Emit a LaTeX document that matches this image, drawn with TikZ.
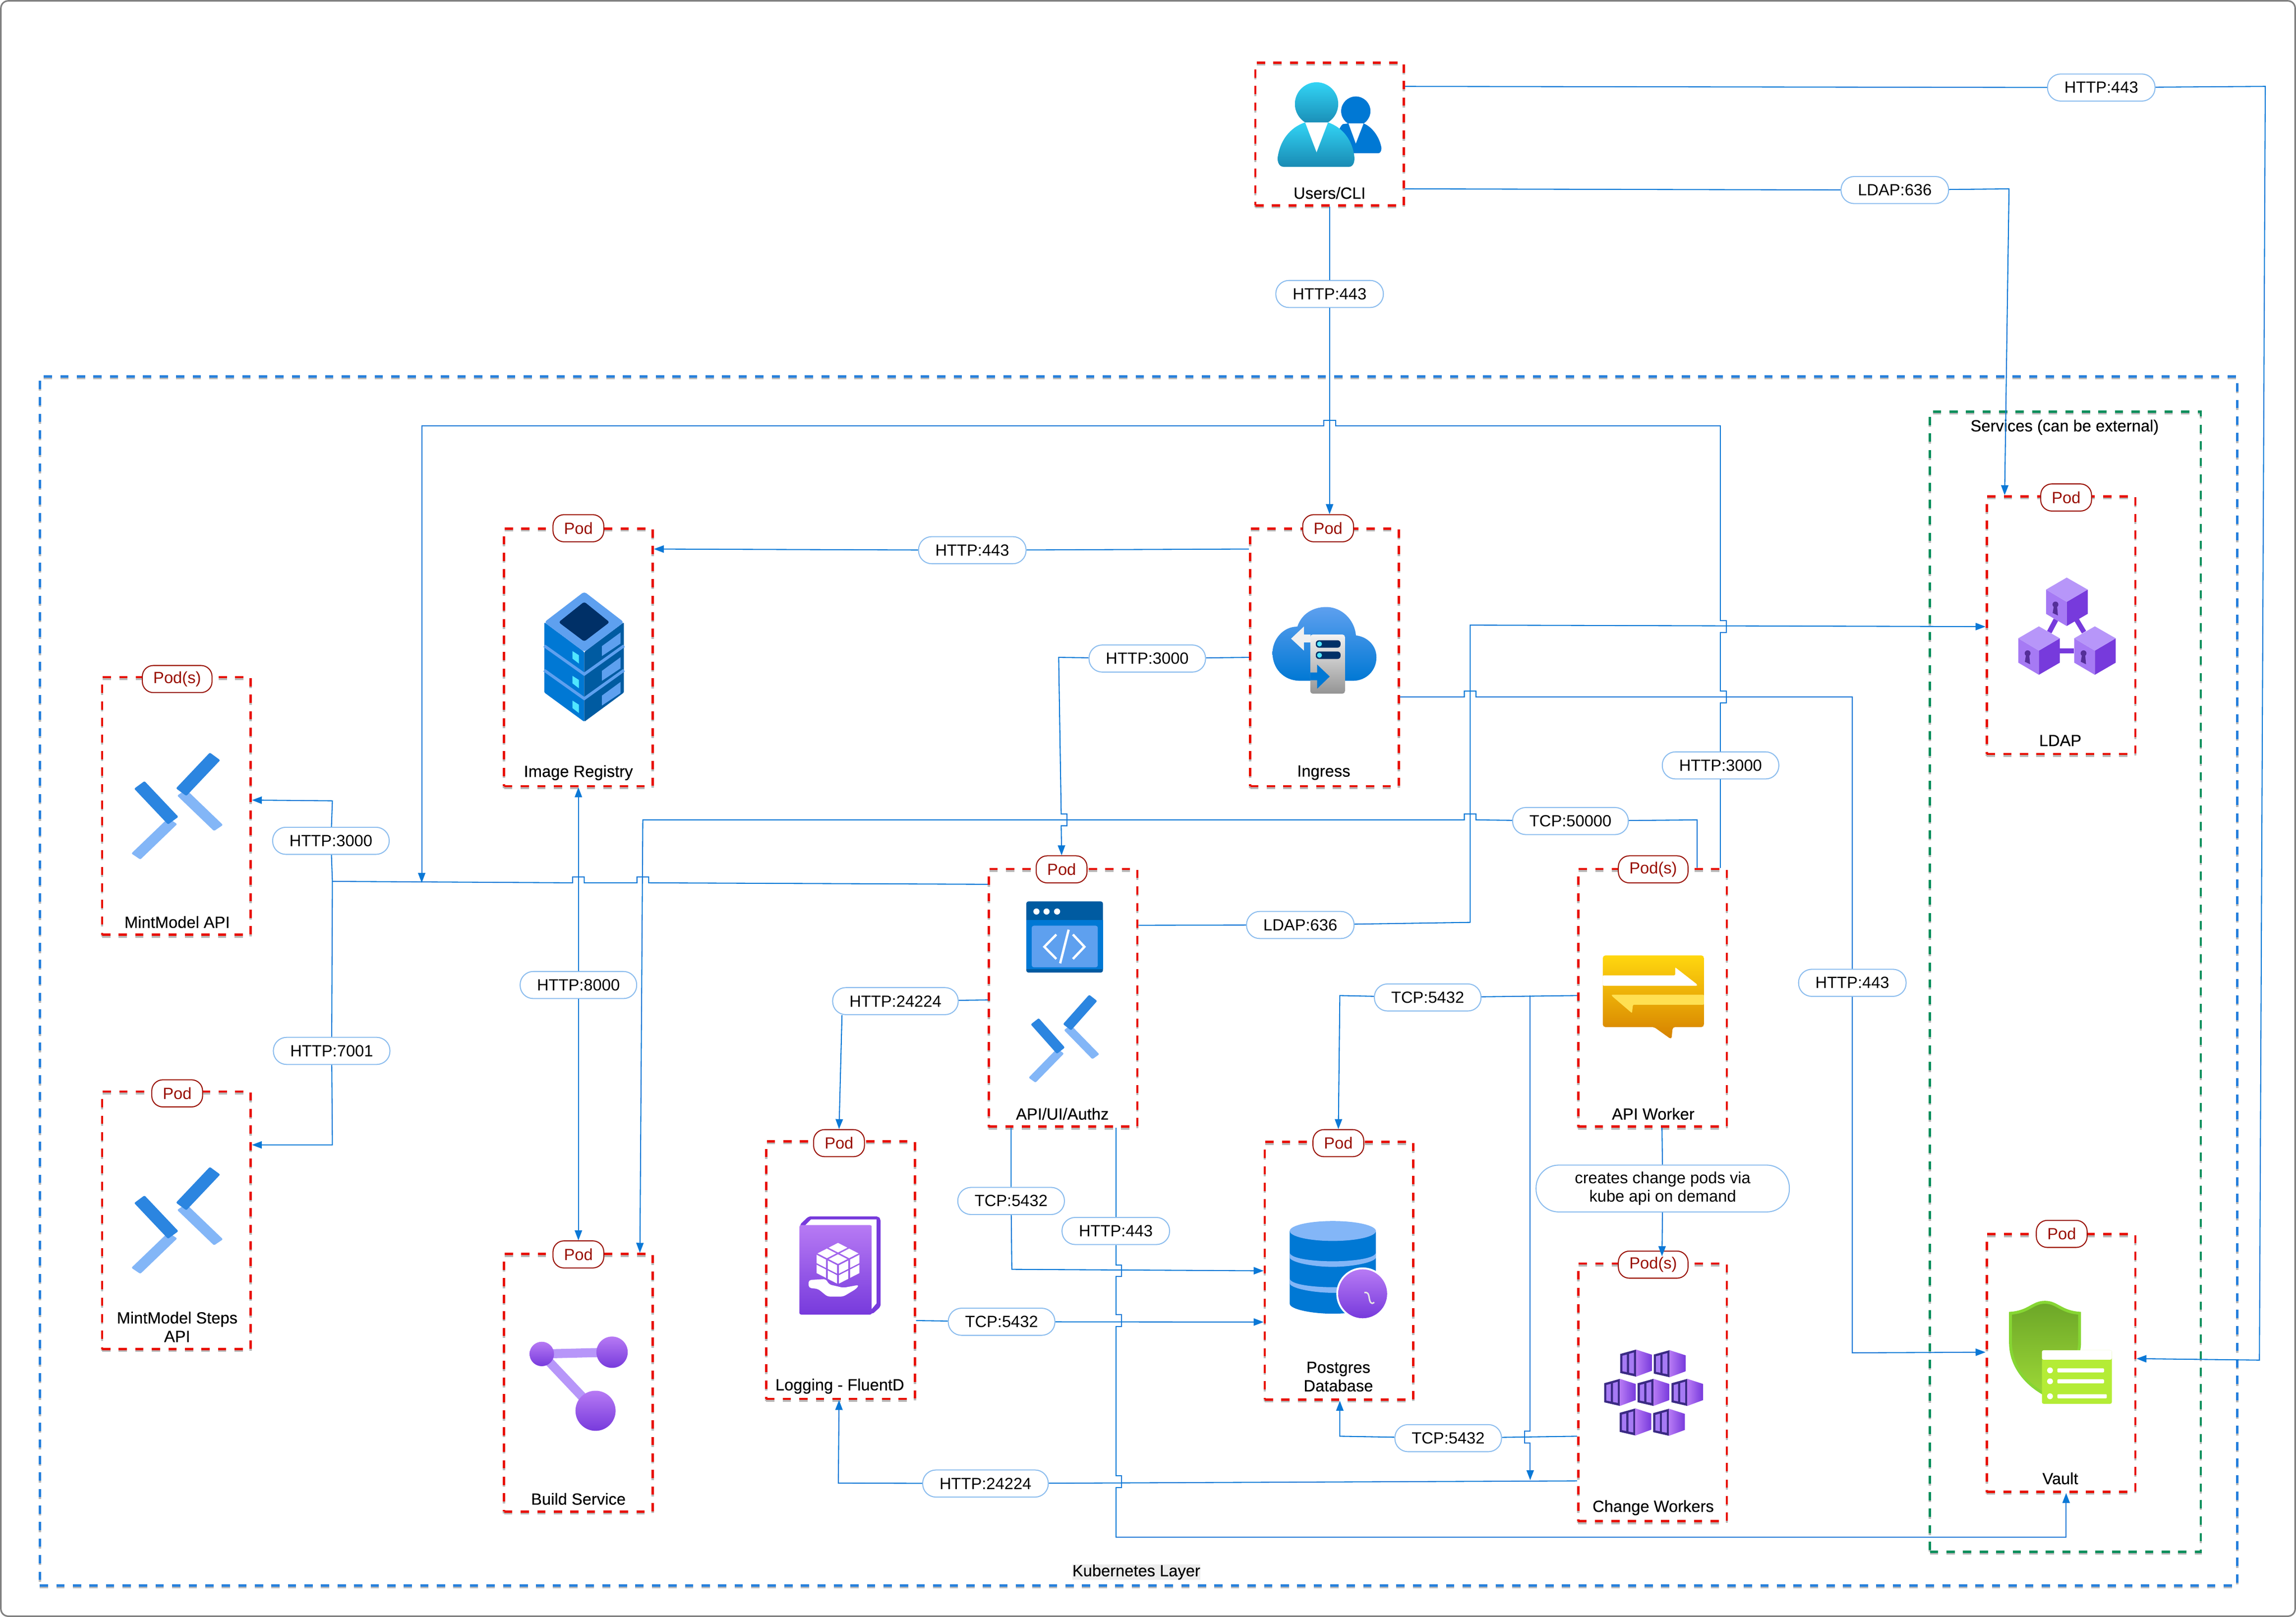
\documentclass[tikz,border=0pt]{standalone}
\usepackage{fontspec}
\setmainfont{Liberation Sans}
\newfontfamily\capfont[FakeBold=0.15]{Liberation Sans}
\usetikzlibrary{arrows.meta}
\definecolor{podred}{HTML}{E81000}
\definecolor{tagred}{HTML}{990F02}
\definecolor{zoneblue}{HTML}{2680DC}
\definecolor{zonegreen}{HTML}{0A8F5C}
\definecolor{linkblue}{HTML}{0A78D6}
\definecolor{pillblue}{HTML}{8CBDEE}
\definecolor{azure}{HTML}{0078D4}
\definecolor{azuredark}{HTML}{005BA1}
\definecolor{azurelight}{HTML}{5EA0EF}
\definecolor{azurenavy}{HTML}{003067}
\definecolor{azurearm}{HTML}{2B85E0}
\definecolor{skyblue}{HTML}{83B6F7}
\definecolor{cyanled}{HTML}{50E6FF}
\definecolor{userstop}{HTML}{32D4F5}
\definecolor{usersbot}{HTML}{198AB3}
\definecolor{violet}{HTML}{773ADC}
\definecolor{violetlight}{HTML}{B77AF4}
\definecolor{violetpale}{HTML}{B796F9}
\definecolor{violetmid}{HTML}{A67AF4}
\definecolor{violetdeep}{HTML}{552F99}
\definecolor{crate}{HTML}{3B2A84}
\definecolor{msgtop}{HTML}{FFD70F}
\definecolor{msgbot}{HTML}{D68100}
\definecolor{msgarrow}{HTML}{FFE052}
\definecolor{shieldrim}{HTML}{86D633}
\definecolor{shieldtop}{HTML}{6CA628}
\definecolor{shieldbot}{HTML}{9CD836}
\definecolor{panelgreen}{HTML}{B4EC36}
\tikzset{
    podbox/.style={draw=podred, line width=0.032cm, dash pattern=on 0.113cm off 0.113cm,
        preaction={draw=black!28, transform canvas={yshift=-0.024cm}},
        minimum width=2.03cm, minimum height=3.52cm, inner sep=0pt},
    zonebox/.style={draw=#1, line width=0.032cm, dash pattern=on 0.113cm off 0.113cm,
        preaction={draw=black!28, transform canvas={yshift=-0.024cm}}, inner sep=0pt},
    podtag/.style={draw=tagred, text=tagred, fill=white, line width=0.4pt, rounded corners=0.15cm,
        minimum height=0.37cm, inner xsep=0.15cm, inner ysep=0pt, yshift=-0.016cm},
    linktag/.style={draw=pillblue, fill=white, line width=0.4pt, rounded corners=0.18cm,
        minimum height=0.37cm, inner xsep=0.23cm, inner ysep=0pt, yshift=-0.016cm},
    caption/.style={inner sep=0pt, align=center, yshift=-0.016cm, font=\capfont\fontsize{6.3}{7.2}\selectfont},
    link/.style={draw=linkblue, line width=0.4pt},
    chevrons/.pic={
        \foreach \sy/\sx in {0/1,16.5/-1}{
            \begin{scope}[shift={(0,\sy)},xscale=\sx]
                \fill[skyblue, rounded corners=0.5pt] (0,-6) -- (4.5,-9.5) -- (23,11) -- (18.5,14.5) -- cycle;
                \fill[azurearm, rounded corners=0.5pt] (21.6,-26.5) -- (16.4,-30.9) -- (-0.6,-10.2) -- (4.6,-5.8) -- cycle;
            \end{scope}
        }
    },
    keycube/.pic={
        \fill[violetmid] (-14.1,8.2) -- (0,16.6) -- (0,33.1) -- (-14.1,24.8) -- cycle;
        \fill[violet] (14.3,8.2) -- (0,16.6) -- (0,33.1) -- (14.3,24.8) -- cycle;
        \fill[violetpale] (0,0) -- (14.3,8.2) -- (0,16.6) -- (-14.1,8.2) -- cycle;
        \fill[violetdeep] (-7.7,18.4) circle[radius=2];
        \fill[violetdeep] (-8.8,19.5) -- (-6.6,19.5) -- (-6,25.9) -- (-9.6,24.2) -- cycle;
    },
    crateicon/.pic={
        \fill[crate] (0,3) -- (10.8,0) -- (10.8,18.5) -- (0,16) -- cycle;
        \fill[violetmid] (1.5,4.2) -- (4.5,3.4) -- (4.5,15.4) -- (1.5,14.8) -- cycle;
        \fill[violetmid] (6,2.9) -- (9.3,2) -- (9.3,16.4) -- (6,15.8) -- cycle;
        \shade[left color=violetlight, right color=violet] (10.8,0) -- (21.6,3.5) -- (21.6,14.5) -- (10.8,18.5) -- cycle;
    }
}
\newcommand\hopx[4]{-- (#1,#3) -- (#1,#3+#4) -- (#2,#3+#4) -- (#2,#3)}
\newcommand\hopy[4]{-- (#1,#2) -- (#1+#4,#2) -- (#1+#4,#3) -- (#1,#3)}
\begin{document}
\begin{tikzpicture}[x=0.02cm, y=-0.02cm, >={Triangle[length=0.136cm,width=0.1cm]},
    every node/.style={font=\fontsize{6.3}{7.2}\selectfont}]
    \useasboundingbox (0,0) rectangle (1568,1104.47);
    \draw[draw=black!50, line width=0.6pt, rounded corners=0.1cm] (0.6,0.6) rectangle (1567.4,1103.9);

    \node[zonebox=zoneblue, minimum width=30.02cm, minimum height=16.52cm] (k8szone) at (777.5,670) {};
    \node[zonebox=zonegreen, minimum width=3.7cm, minimum height=15.58cm] (serviceszone) at (1410.5,670.5) {};
    \node[caption, fill=black!7] (k8slabel) at (776,1073) {Kubernetes Layer};
    \node[caption] (serviceslabel) at (1410,291) {Services (can be external)};

    \node[podbox, minimum height=1.95cm] (users) at (908,91.5) {};
    \node[podbox] (registry) at (395,449) {};
    \node[podbox] (ingress) at (904.5,449) {};
    \node[podbox] (mintapi) at (120.5,550.5) {};
    \node[podbox] (mintsteps) at (120.5,833.5) {};
    \node[podbox] (build) at (395,944.5) {};
    \node[podbox] (apiui) at (726,681.5) {};
    \node[podbox] (logging) at (574,867.5) {};
    \node[podbox] (postgres) at (914.5,868) {};
    \node[podbox] (apiworker) at (1128.5,681.5) {};
    \node[podbox] (changeworkers) at (1128.5,951) {};
    \node[podbox] (ldap) at (1407.5,427) {};
    \node[podbox] (vault) at (1407.5,931) {};

    \node[podtag] (registrypod) at (395,360) {Pod};
    \node[podtag] (ingresspod) at (907,360) {Pod};
    \node[podtag] (mintapipod) at (121,463) {Pod(s)};
    \node[podtag] (mintstepspod) at (121,746) {Pod};
    \node[podtag] (buildpod) at (395,856) {Pod};
    \node[podtag] (apiuipod) at (725,593) {Pod};
    \node[podtag] (loggingpod) at (573,780) {Pod};
    \node[podtag] (postgrespod) at (914,780) {Pod};
    \node[podtag] (apiworkerpod) at (1129,593) {Pod(s)};
    \node[podtag] (changepod) at (1129,863) {Pod(s)};
    \node[podtag] (ldappod) at (1411,339) {Pod};
    \node[podtag] (vaultpod) at (1408,842) {Pod};

    \node[caption] (userscap) at (908,131) {Users/CLI};
    \node[caption] (registrycap) at (395,527) {Image Registry};
    \node[caption] (ingresscap) at (904,527) {Ingress};
    \node[caption] (mintapicap) at (121,629) {MintModel API};
    \node[caption] (mintstepscap) at (121,905.5) {MintModel Steps\\API};
    \node[caption] (buildcap) at (395,1023) {Build Service};
    \node[caption] (apiuicap) at (725.5,760) {API/UI/Authz};
    \node[caption] (loggingcap) at (573.5,946) {Logging - FluentD};
    \node[caption] (postgrescap) at (914,939.5) {Postgres\\Database};
    \node[caption] (apiworkercap) at (1129,760) {API Worker};
    \node[caption] (changecap) at (1129,1029) {Change Workers};
    \node[caption] (ldapcap) at (1407,505) {LDAP};
    \node[caption] (vaultcap) at (1407,1009) {Vault};

    \node[linktag] (usersvaulttag) at (1435,59) {HTTP:443};
    \node[linktag] (usersldaptag) at (1294,129) {LDAP:636};
    \node[linktag] (usershttptag) at (908,200) {HTTP:443};
    \node[linktag] (ingressregtag) at (664,375) {HTTP:443};
    \node[linktag] (ingressapitag) at (783.5,449) {HTTP:3000};
    \node[linktag] (workerhttptag) at (1175,522) {HTTP:3000};
    \node[linktag] (workerbuildtag) at (1072.5,560) {TCP:50000};
    \node[linktag] (mintapitag) at (226,573.5) {HTTP:3000};
    \node[linktag] (mintstepstag) at (226.5,717) {HTTP:7001};
    \node[linktag] (registrybuildtag) at (395,672) {HTTP:8000};
    \node[linktag] (apildaptag) at (888,631) {LDAP:636};
    \node[linktag] (ingressvaulttag) at (1265,670.5) {HTTP:443};
    \node[linktag] (workerdbtag) at (975,680.5) {TCP:5432};
    \node[linktag] (apilogtag) at (611.5,683) {HTTP:24224};
    \node[linktag] (apidbtag) at (690.5,819.5) {TCP:5432};
    \node[linktag] (apivaulttag) at (762,840) {HTTP:443};
    \node[linktag] (logdbtag) at (684,902) {TCP:5432};
    \node[linktag] (changedbtag) at (989,981.5) {TCP:5432};
    \node[linktag] (changelogtag) at (673,1012.5) {HTTP:24224};
    \node[linktag, rounded corners=0.31cm, minimum width=3.46cm, minimum height=0.64cm, inner xsep=0pt, align=center] (podsviatag) at (1135.5,811) {creates change pods via\\kube api on demand};

    \coordinate (mintjoin) at (227,602);
    \coordinate (workerjoin) at (1045,680);
    \coordinate (changein) at (1135,858);

    \draw[link,->] (users.east |- 0,59) -- (usersvaulttag) -- (1547,59) -- (1543,929) -- (vault.east |- 0,928);
    \draw[link,->] (users.east |- 0,129) -- (usersldaptag) -- (1372,129) -- (ldap.north -| 1369,0);
    \draw[link,->] (users.south) -- (usershttptag) -- (ingresspod.north -| 908,0);
    \draw[link,->] (apiworker.north -| 1175,0) -- (workerhttptag) \hopy{1175}{480}{472}{4} \hopy{1175}{432}{424}{4} -- (1175,291) \hopx{912}{904}{291}{-4} -- (288,291) -- (288,603);
    \draw[link,->] (ingress.west |- 0,375) -- (ingressregtag) -- (registry.east |- 0,375);
    \draw[link,->] (ingress.west |- 0,449) -- (ingressapitag) -- (723,449) \hopy{724.7}{556}{564}{4} -- (apiuipod.north);
    \draw[link,->] (ingress.east |- 0,476) \hopx{1000}{1008}{476}{-4} -- (1265,476) -- (ingressvaulttag) -- (1265,924) -- (vault.west |- 0,923.6);
    \draw[link,->] (apiui.east |- 0,632) -- (apildaptag) -- (1004,630) -- (1004,427) -- (ldap.west |- 0,428);
    \draw[link,->] (apiworker.north -| 1159,0) -- (1159,560) -- (workerbuildtag) \hopx{1008}{1000}{560}{-4} -- (439,560) -- (build.north -| 437,0);
    \draw[link] (apiui.west |- 0,604) \hopx{443}{435}{603}{-4} \hopx{399}{391}{603}{-4} -- (mintjoin);
    \draw[link,->] (mintjoin) -- (mintapitag) -- (227,547) -- (mintapi.east |- 0,546.5);
    \draw[link,->] (mintjoin) -- (mintstepstag) -- (227,782) -- (mintsteps.east |- 0,782);
    \draw[link,<-] (registry.south) -- (registrybuildtag);
    \draw[link,->] (registrybuildtag) -- (buildpod.north);
    \draw[link] (apiui.west |- 0,683) -- (apilogtag);
    \draw[link,->] (apilogtag.south -| 575,0) -- (loggingpod.north);
    \draw[link,->] (apiui.south -| 690.5,0) -- (apidbtag) -- (691,867) -- (postgres.west |- 0,868);
    \draw[link,->] (apiui.south -| 762,0) -- (apivaulttag) \hopy{762}{864}{872}{4} \hopy{762}{898}{906}{4} \hopy{762}{1008}{1016}{4} -- (762,1050) -- (1411,1050) -- (vault.south -| 1411,0);
    \draw[link,->] (logging.east |- 0,902) -- (logdbtag) -- (postgres.west |- 0,903);
    \draw[link,->] (apiworker.west |- 0,680) -- (workerdbtag) -- (915,680) -- (postgrespod.north);
    \draw[link,->] (workerjoin) \hopy{1045}{977.5}{985.5}{-4} -- (1045,1011);
    \draw[link,->] (changeworkers.west |- 0,981) -- (changedbtag) -- (915,981) -- (postgres.south -| 915,0);
    \draw[link,->] (changeworkers.west |- 0,1011.5) -- (changelogtag) -- (572.5,1013) -- (logging.south -| 573,0);
    \draw[link,->] (apiworker.south -| 1135,0) -- (podsviatag) -- (changein);

    % users
    \fill[azure] (921,104.7) .. controls (914,104.7) and (911,90) .. (917,84.8) -- (920.9,84.3) -- (931.2,84.3) .. controls (938,87) and (942.5,95) .. (943.4,101) .. controls (943.4,103.5) and (942.5,104.7) .. (941,104.7) -- cycle;
    \fill[azure] (925.9,75.9) circle[radius=10];
    \fill[white] (920.9,84.3) -- (931.2,84.3) -- (925.9,98) -- cycle;
    \shade[top color=userstop, bottom color=usersbot] (877,114) .. controls (873.5,114) and (872.5,111) .. (872.5,108) .. controls (874,96) and (881,87) .. (891.3,83.6) -- (906.9,83.6) .. controls (917,87) and (924,96) .. (925,108) .. controls (925,111) and (924,114) .. (921,114) -- cycle;
    \shade[top color=userstop, bottom color=usersbot] (899.1,71) circle[radius=14.8];
    \fill[white] (891.3,83.6) -- (906.9,83.6) -- (899.1,104) -- cycle;

    % registry
    \fill[azure, rounded corners=0.5pt] (371.7,425) -- (399,445.3) -- (399,493) -- (371.7,473) -- cycle;
    \fill[azuredark, rounded corners=0.5pt] (426.1,425) -- (399,445.3) -- (399,493) -- (426.1,473) -- cycle;
    \foreach \dy in {0,16.7}{
        \draw[azurelight, line width=0.04cm] (371.7,441.1+\dy) -- (399,460.5+\dy) -- (426.1,441.1+\dy);
    }
    \foreach \dy in {0,16.9,33.8}{
        \fill[azurelight] (411.1,441.3+\dy) -- (423.8,432+\dy) -- (423.8,439.6+\dy) -- (411.1,448.1+\dy) -- cycle;
        \fill[cyanled] (390.9,444.7+\dy) -- (395.3,447.5+\dy) -- (395.3,453.2+\dy) -- (390.9,449.8+\dy) -- cycle;
    }
    \fill[azurelight, rounded corners=1pt] (399,404.1) -- (426.1,425) -- (399,445.3) -- (371.7,425) -- cycle;
    \fill[azurenavy, rounded corners=0.8pt] (399,411) -- (416.3,425) -- (399,438.2) -- (381.5,425) -- cycle;

    % ingress
    \shade[top color=azurelight, bottom color=azure] (888,465) .. controls (876,465) and (869,456) .. (869,446) .. controls (869,437) and (876,428) .. (886,428) .. controls (889,419) and (897,414.6) .. (905.7,414.6) .. controls (916,414.6) and (925,423) .. (926,434) .. controls (934,435) and (940,441) .. (940,449) .. controls (940,458) and (933,465) .. (924,465) -- cycle;
    \shade[top color=black!5, bottom color=black!42, rounded corners=1pt] (894.8,433.4) rectangle (918.5,473.8);
    \fill[black!6] (881.7,436.2) -- (890.5,427.9) -- (890.5,433.4) -- (895,433.4) -- (895,438.8) -- (890.5,438.8) -- (890.5,444.4) -- cycle;
    \fill[azure] (908.1,462.1) -- (899.5,453.9) -- (899.5,459.3) -- (894.8,459.3) -- (894.8,464.7) -- (899.5,464.7) -- (899.5,470.4) -- cycle;
    \foreach \ry in {437.3,445}{
        \fill[azurenavy, rounded corners=1.2pt] (898.6,\ry) rectangle (915.5,\ry+5.1);
        \fill[cyanled] (901.1,\ry+2.55) circle[radius=1.7];
    }

    % chevrons
    \pic[xscale=1.36, yscale=1.18] at (121,550.5) {chevrons};
    \pic[xscale=1.36, yscale=1.18] at (121,833.5) {chevrons};
    \pic[xscale=1.05, yscale=0.97] at (726.6,709.4) {chevrons};

    % code window
    \fill[azuredark, rounded corners=0.8pt] (700.9,615.7) rectangle (753.2,664.3);
    \fill[azure] (700.9,628.5) rectangle (753.2,662);
    \fill[azurelight, rounded corners=0.8pt] (704.6,632.3) rectangle (749.7,660.7);
    \foreach \dx in {707.8,714.7,721.9}
        \fill[white] (\dx,622.6) circle[radius=2.1];
    \draw[white, line width=0.032cm] (721.4,638.3) -- (713.2,646.7) -- (721.4,655);
    \draw[white, line width=0.032cm] (732.7,638.3) -- (740.6,646.7) -- (732.7,655);
    \draw[white, line width=0.032cm] (729.8,635) -- (724,658);

    % book
    \fill[violet, rounded corners=1pt] (545.9,836.8) -- (552.2,830.8) -- (599.7,830.8) -- (601.4,832.7) -- (601.4,892.5) -- (595.4,897.9) -- cycle;
    \fill[white] (550,836.8) -- (553.9,832.9) -- (598.6,832.9) -- (598.6,890.2) -- (595.4,894) -- cycle;
    \shade[top color=violetlight, bottom color=violet, rounded corners=0.7pt] (545.9,836.8) rectangle (595.4,897.9);
    \fill[white, rounded corners=1pt] (552.2,874.3) -- (564,873.6) -- (566.2,877.3) -- (575.9,879.6) -- (586.7,877.6) -- (584.6,880.4) -- (575.9,885.6) -- (565.1,885.6) -- (558.7,880.4) -- (552.2,879.6) -- cycle;
    \foreach \ox/\oy/\ax/\ay/\bx/\by in {572.3/848.3/7.6/3.9/-7.6/3.9, 557.1/856.2/7.6/3.9/0/6.8, 572.3/864/7.6/-3.9/0/6.8}
        \foreach \i in {0,1}
            \foreach \j in {0,1}
                \fill[white] ({\ox+(\i+.08)*\ax+(\j+.08)*\bx},{\oy+(\i+.08)*\ay+(\j+.08)*\by}) -- ({\ox+(\i+.92)*\ax+(\j+.08)*\bx},{\oy+(\i+.92)*\ay+(\j+.08)*\by}) -- ({\ox+(\i+.92)*\ax+(\j+.92)*\bx},{\oy+(\i+.92)*\ay+(\j+.92)*\by}) -- ({\ox+(\i+.08)*\ax+(\j+.92)*\bx},{\oy+(\i+.08)*\ay+(\j+.92)*\by}) -- cycle;

    % build service
    \draw[violetpale, line width=0.124cm] (418,923.6) -- (370,924.8) -- (406.7,963.6);
    \shade[top color=violetlight, bottom color=violet] (370,924.8) circle[radius=8.35];
    \shade[top color=violetlight, bottom color=violet] (418,923.6) circle[radius=10.7];
    \shade[top color=violetlight, bottom color=violet] (406.7,963.6) circle[radius=13.7];

    % database
    \fill[azure] (880.8,840.8) -- (880.8,890.5) .. controls (880.8,894.3) and (896,897.3) .. (910.2,897.3) .. controls (924,897.3) and (939.6,894.3) .. (939.6,890.5) -- (939.6,840.8) -- cycle;
    \foreach \dy in {0,17.7}
        \fill[skyblue] (880.8,855.5+\dy) .. controls (880.8,859.5+\dy) and (896,861.5+\dy) .. (910.2,861.5+\dy) .. controls (924,861.5+\dy) and (939.6,859.5+\dy) .. (939.6,855.5+\dy) -- (939.6,858.8+\dy) .. controls (939.6,862+\dy) and (924,865.3+\dy) .. (910.2,865.3+\dy) .. controls (896,865.3+\dy) and (880.8,862+\dy) .. (880.8,858.8+\dy) -- cycle;
    \fill[skyblue] (910.2,840.8) ellipse[x radius=29.4, y radius=6.8];
    \fill[white] (930.6,883.7) circle[radius=18];
    \shade[top color=violetlight, bottom color=violet] (930.6,883.7) circle[radius=16.7];
    \draw[black!10, line width=0.02cm] (931.7,882.8) .. controls (934.5,882.6) and (934.5,884) .. (935,886) .. controls (935.4,889) and (936.2,891.5) .. (938.5,889.5);

    % message box
    \shade[top color=msgtop, bottom color=msgbot, rounded corners=1pt] (1094.6,652.6) -- (1094.6,701.5) -- (1129.6,701.5) -- (1141.5,710) -- (1142.3,701.5) -- (1163.7,701.5) -- (1163.7,652.6) -- cycle;
    \fill[white, rounded corners=0.4pt] (1094.6,666.2) -- (1144,666.2) -- (1144,660.7) -- (1159,672.4) -- (1159,673.3) -- (1094.6,673.3) -- cycle;
    \fill[msgarrow, rounded corners=0.4pt] (1163.7,679.4) -- (1100.7,679.4) -- (1100.7,680.2) -- (1114.5,692) -- (1115.2,686.3) -- (1163.7,686.3) -- cycle;

    % containers
    \foreach \cx/\cy in {1106.5/921.8, 1129.4/922.2, 1095.5/941.8, 1118.4/941.8, 1141.5/941.8, 1106.1/962, 1129/962.2}
        \pic at (\cx,\cy) {crateicon};

    % ldap
    \draw[violet, line width=0.068cm] (1404,423.3) -- (1399.5,431.8);
    \draw[violet, line width=0.068cm] (1418.1,423.3) -- (1423.2,431.8);
    \draw[violet, line width=0.068cm] (1406.5,444.4) -- (1416.4,444.4);
    \pic at (1411.4,394.5) {keycube};
    \pic at (1392.4,427.8) {keycube};
    \pic at (1430.6,427.8) {keycube};

    % vault
    \shade[draw=shieldrim, line width=0.04cm, top color=shieldtop, bottom color=shieldbot] (1373,897) .. controls (1386,896) and (1388,889.5) .. (1396.5,889.5) .. controls (1405,889.5) and (1407,896) .. (1420.2,897) -- (1420.2,917) .. controls (1420,932) and (1408,945) .. (1396,952) .. controls (1385,946) and (1373,934) .. (1373,917) -- cycle;
    \fill[panelgreen, rounded corners=0.6pt] (1394.5,922.3) rectangle (1442.2,958.8);
    \fill[white, rounded corners=0.6pt] (1394.5,922.3) rectangle (1442.2,928.7);
    \foreach \ry/\rw in {936/1436.9, 943.5/1436.9, 953.7/1438.8}{
        \fill[white] (1400,\ry) circle[radius=2];
        \fill[white, rounded corners=0.4pt] (1405,\ry-1.4) rectangle (\rw,\ry+1.4);
    }
\end{tikzpicture}
\end{document}
